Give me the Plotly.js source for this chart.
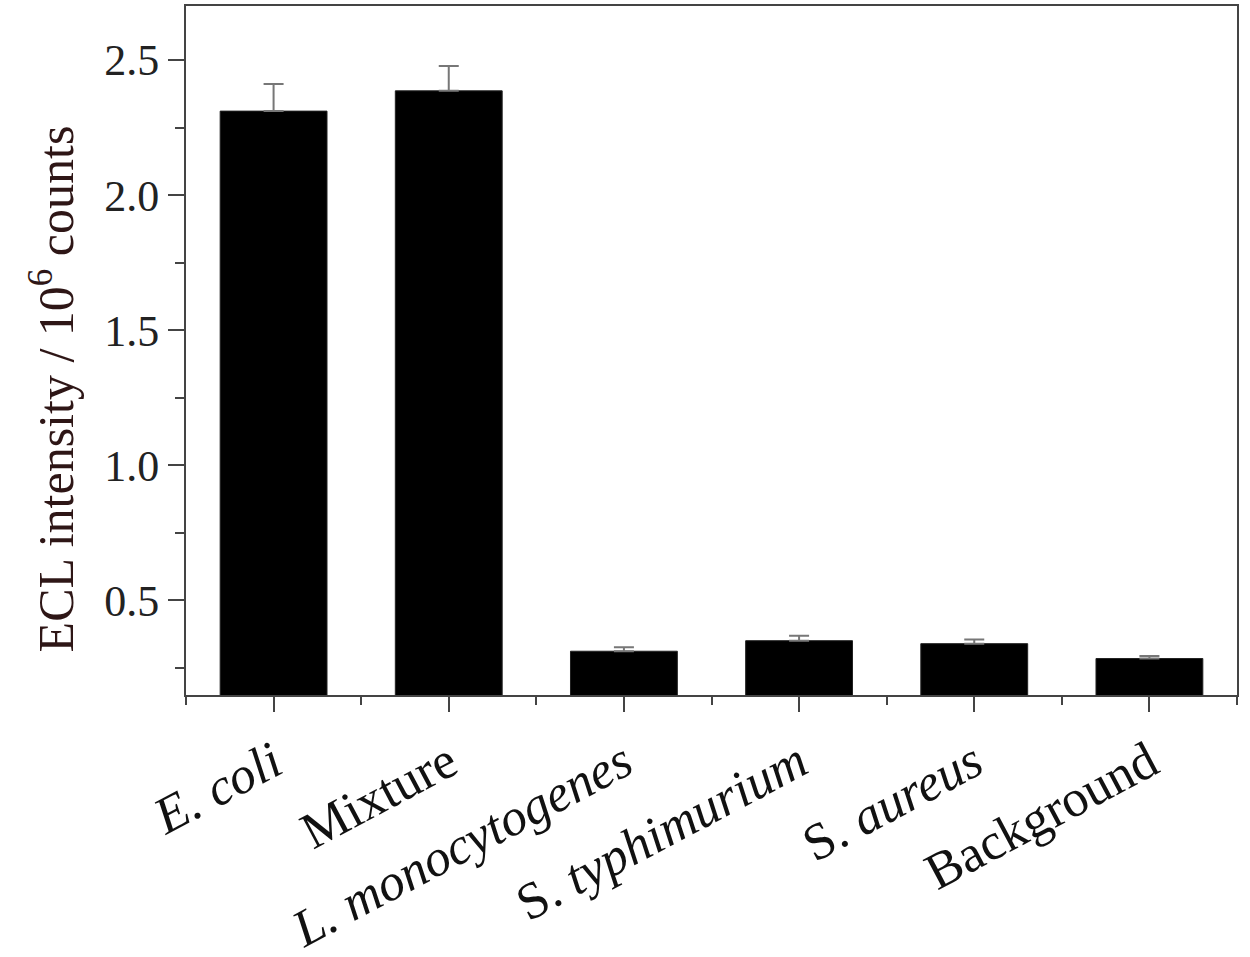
<!DOCTYPE html>
<html>
<head>
<meta charset="utf-8">
<script src="https://cdn.plot.ly/plotly-3.0.1.min.js"></script>
<style>html,body{margin:0;padding:0;background:#fff;}#chart{width:1250px;height:957px;}</style>
</head>
<body>
<div id="chart"></div>
<script>
// Data
const categories = ["<i>E. coli</i>", "Mixture", "<i>L. monocytogenes</i>", "S. <i>typhimurium</i>", "S. <i>aureus</i>", "Background"];
const ecl = [2.311, 2.386, 0.312, 0.351, 0.340, 0.285];
const errUp = [0.100, 0.092, 0.015, 0.018, 0.015, 0.009];
const yTickVals = [0.5, 1.0, 1.5, 2.0, 2.5];
const yTickText = ["0.5", "1.0", "1.5", "2.0", "2.5"];
const yTitle = "ECL intensity / 10<sup>6</sup> counts";

const xIdx = categories.map((c, i) => i);

const trace = {
  type: "bar",
  x: xIdx,
  y: ecl,
  width: 0.61,
  marker: {color: "#000000", line: {color: "#222", width: 1}},
  error_y: {
    type: "data",
    symmetric: false,
    array: errUp,
    arrayminus: errUp.map(() => 0),
    color: "#777777",
    thickness: 2,
    width: 10
  },
  hoverinfo: "x+y"
};

const fontFam = "Liberation Serif, Times New Roman, serif";

const layout = {
  width: 1250,
  height: 957,
  margin: {l: 186, r: 13, t: 6, b: 262},
  paper_bgcolor: "#fff",
  plot_bgcolor: "#fff",
  showlegend: false,
  font: {family: fontFam, color: "#111"},
  xaxis: {
    range: [-0.5, 5.5],
    tickmode: "array",
    tickvals: xIdx,
    ticktext: categories,
    tickangle: -28,
    tickfont: {family: fontFam, size: 52, color: "#111"},
    ticks: "outside",
    ticklen: 15,
    tickwidth: 2,
    tickcolor: "#444",
    showline: true,
    linecolor: "#444",
    linewidth: 2,
    mirror: true,
    showgrid: false,
    zeroline: false,
    minor: {tick0: 0.5, dtick: 1, ticks: "outside", ticklen: 8, tickwidth: 2, tickcolor: "#444", showgrid: false}
  },
  yaxis: {
    range: [0.15, 2.7],
    tickmode: "array",
    tickvals: yTickVals,
    ticktext: yTickText,
    tickfont: {family: fontFam, size: 44, color: "#222"},
    ticks: "outside",
    ticklen: 16,
    tickwidth: 2,
    tickcolor: "#444",
    showline: true,
    linecolor: "#444",
    linewidth: 2,
    mirror: true,
    showgrid: false,
    zeroline: false,
    minor: {tick0: 0.25, dtick: 0.5, ticks: "outside", ticklen: 9, tickwidth: 2, tickcolor: "#444", showgrid: false}
  },
  annotations: [{
    text: yTitle,
    xref: "paper", yref: "paper",
    x: -0.1275, y: 0.445,
    xanchor: "center", yanchor: "middle",
    textangle: -90,
    showarrow: false,
    font: {family: fontFam, size: 50, color: "#2e1616"}
  }]
};

Plotly.newPlot("chart", [trace], layout, {displayModeBar: false, staticPlot: true});
</script>
</body>
</html>
